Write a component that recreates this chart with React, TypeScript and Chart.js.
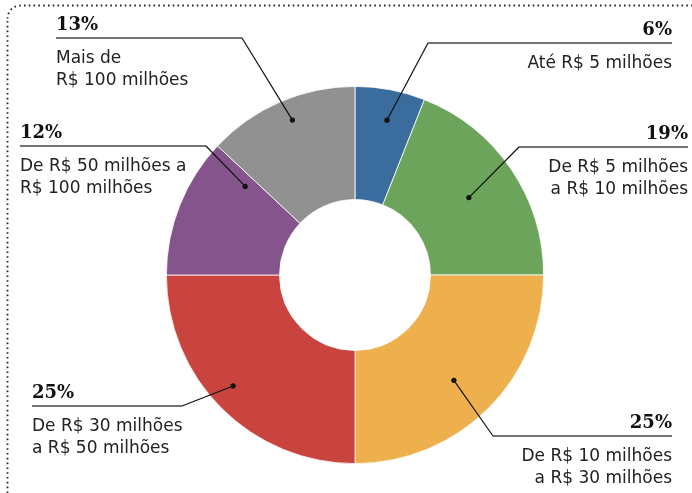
import React, { useEffect, useRef } from "react";
import { Chart, registerables } from "chart.js";

Chart.register(...registerables);

// ---- data ----
const categories = [
  "Até R$ 5 milhões",
  "De R$ 5 milhões a R$ 10 milhões",
  "De R$ 10 milhões a R$ 30 milhões",
  "De R$ 30 milhões a R$ 50 milhões",
  "De R$ 50 milhões a R$ 100 milhões",
  "Mais de R$ 100 milhões",
];
const shares = [6, 19, 25, 25, 12, 13];
const labelLines = [
  ["Até R$ 5 milhões"],
  ["De R$ 5 milhões", "a R$ 10 milhões"],
  ["De R$ 10 milhões", "a R$ 30 milhões"],
  ["De R$ 30 milhões", "a R$ 50 milhões"],
  ["De R$ 50 milhões a", "R$ 100 milhões"],
  ["Mais de", "R$ 100 milhões"],
];
const sliceColors = ["#3A6C9E", "#6BA45A", "#EDB04D", "#C9443F", "#85548C", "#909190"];

// ---- callout layout (positions only) ----
type Callout = {
  side: "left" | "right";
  x: number;
  lineY: number;
  elbowX: number;
  angleFrac: number;
  radFrac: number;
};
const calloutLayout: Callout[] = [
  { side: "right", x: 672, lineY: 43, elbowX: 428, angleFrac: 0.54, radFrac: 0.73 },
  { side: "right", x: 688, lineY: 147, elbowX: 519, angleFrac: 0.5, radFrac: 0.55 },
  { side: "right", x: 672, lineY: 436, elbowX: 493, angleFrac: 0.52, radFrac: 0.61 },
  { side: "left", x: 32, lineY: 406, elbowX: 182, angleFrac: 0.53, radFrac: 0.79 },
  { side: "left", x: 20, lineY: 146, elbowX: 206, angleFrac: 0.9, radFrac: 0.58 },
  { side: "left", x: 56, lineY: 38, elbowX: 242, angleFrac: 0.53, radFrac: 0.81 },
];

const LABEL_FONT = '17px "DejaVu Sans"';
const PCT_FONT = 'bold 18px "DejaVu Serif"';

const framePlugin = {
  id: "dottedFrame",
  beforeDraw(chart: any) {
    const ctx = chart.ctx;
    ctx.save();
    ctx.strokeStyle = "#222";
    ctx.lineWidth = 1.8;
    ctx.setLineDash([1.6, 3.2]);
    ctx.beginPath();
    ctx.moveTo(7.5, chart.height);
    ctx.lineTo(7.5, 18);
    ctx.arcTo(7.5, 5.5, 20, 5.5, 13);
    ctx.lineTo(chart.width, 5.5);
    ctx.stroke();
    ctx.restore();
  },
};

const calloutPlugin = {
  id: "callouts",
  afterDraw(chart: any) {
    const ctx = chart.ctx;
    const meta = chart.getDatasetMeta(0);
    meta.data.forEach((arc: any, i: number) => {
      const L = calloutLayout[i];
      const p = arc.getProps(["x", "y", "startAngle", "endAngle", "innerRadius", "outerRadius"], true);
      const a = p.startAngle + L.angleFrac * (p.endAngle - p.startAngle);
      const r = p.innerRadius + L.radFrac * (p.outerRadius - p.innerRadius);
      const dx = p.x + r * Math.cos(a);
      const dy = p.y + r * Math.sin(a);
      ctx.save();
      // diagonal leader
      ctx.strokeStyle = "#111";
      ctx.lineWidth = 1.2;
      ctx.beginPath();
      ctx.moveTo(dx, dy);
      ctx.lineTo(L.elbowX, L.lineY);
      ctx.stroke();
      // horizontal rule
      ctx.strokeStyle = "#444";
      ctx.lineWidth = 1.6;
      ctx.beginPath();
      ctx.moveTo(L.elbowX, L.lineY);
      ctx.lineTo(L.x, L.lineY);
      ctx.stroke();
      // dot
      ctx.fillStyle = "#111";
      ctx.beginPath();
      ctx.arc(dx, dy, 2.6, 0, Math.PI * 2);
      ctx.fill();
      // text
      ctx.textAlign = L.side === "left" ? "left" : "right";
      ctx.textBaseline = "alphabetic";
      ctx.fillStyle = "#111";
      ctx.font = PCT_FONT;
      ctx.fillText(`${shares[i]}%`, L.x, L.lineY - 8);
      ctx.fillStyle = "#222";
      ctx.font = LABEL_FONT;
      labelLines[i].forEach((t, k) => {
        ctx.fillText(t, L.x, L.lineY + 25 + k * 22);
      });
      ctx.restore();
    });
  },
};

export default function App() {
  const ref = useRef<HTMLCanvasElement>(null);
  useEffect(() => {
    if (!ref.current) return;
    const chart = new Chart(ref.current, {
      type: "doughnut",
      data: {
        labels: categories,
        datasets: [
          {
            data: shares,
            backgroundColor: sliceColors,
            borderColor: "#ffffff",
            borderWidth: 0.8,
          },
        ],
      },
      options: {
        responsive: false,
        animation: false,
        cutout: "40%",
        layout: { padding: { left: 166, right: 148, top: 86, bottom: 29 } },
        plugins: {
          legend: { display: false },
          tooltip: { enabled: false },
        },
      },
      plugins: [framePlugin, calloutPlugin],
    });
    return () => chart.destroy();
  }, []);
  return (
    <div style={{ position: "fixed", left: 0, top: 0, width: 692, height: 493, background: "#fff" }}>
      <canvas ref={ref} width={692} height={493} style={{ display: "block" }} />
    </div>
  );
}
